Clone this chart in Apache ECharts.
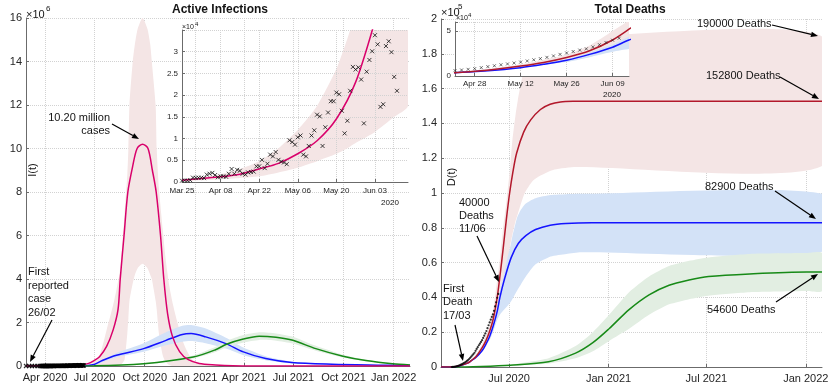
<!DOCTYPE html>
<html>
<head>
<meta charset="utf-8">
<script src="https://cdn.jsdelivr.net/npm/echarts@6/dist/echarts.min.js"></script>
<style>
html, body { margin: 0; padding: 0; background: #fff; }
#chart { width: 830px; height: 392px; }
</style>
</head>
<body>
<div id="chart"></div>
<script>
// all "days" count from 26 Feb 2020 (first reported case)
var DAY0 = Date.UTC(2020, 1, 26);
var END = 705;

// ---- Active infections (millions) ----
var magDays = [0, 90, 100, 115, 125, 135, 148, 160, 169, 173, 180, 187, 196, 204, 214, 224, 232, 239, 247, 253, 260, 269, 282, 297, 318, 348, 380, 420, 705];
var magVals = [0, 0.02, 0.045, 0.12, 0.25, 0.43, 0.9, 1.66, 2.6, 4.0, 6.0, 8.0, 9.2, 10.0, 10.2, 10.0, 9.0, 8.0, 6.0, 4.0, 2.4, 1.35, 0.66, 0.3, 0.12, 0.05, 0.01, 0, 0];
var magBandDays = [100, 120, 135, 148, 160, 166, 172, 176, 181, 186, 188, 190, 196, 200, 205, 214, 223, 228, 231, 238, 240, 244, 251, 256, 263, 270, 278, 290, 305, 330, 360];
var magBandHigh = [0.05, 0.2, 0.5, 1.66, 2.8, 3.5, 4.3, 5.4, 7.0, 8.8, 10.0, 12.0, 14.0, 14.8, 15.5, 16.0, 15.5, 14.8, 14.0, 12.0, 10.0, 8.2, 6.3, 5.0, 3.7, 2.8, 2.0, 1.0, 0.3, 0.05, 0.01];
var magBandLow = [0, 0, 0, 0, 0, 0, 0.02, 0.1, 0.3, 1.5, 2.2, 3.0, 3.8, 4.2, 4.5, 4.7, 4.5, 4.2, 4.0, 3.0, 2.6, 1.5, 0.5, 0.2, 0.05, 0, 0, 0, 0, 0, 0];

var blueDays = [0, 100, 125, 140, 166, 216, 257, 287, 303, 330, 367, 399, 440, 488, 562, 645, 705];
var blueVals = [0, 0.01, 0.07, 0.25, 0.49, 0.8, 1.18, 1.45, 1.49, 1.34, 1.03, 0.65, 0.34, 0.16, 0.08, 0.04, 0.02];
var blueBandDays = [100, 125, 166, 216, 257, 287, 303, 330, 367, 399, 440, 488, 562, 705];
var blueBandHigh = [0.01, 0.09, 0.6, 1.05, 1.55, 1.85, 1.88, 1.72, 1.3, 0.85, 0.45, 0.2, 0.09, 0.03];
var blueBandLow = [0.01, 0.05, 0.4, 0.65, 0.95, 1.12, 1.15, 1.05, 0.8, 0.5, 0.27, 0.12, 0.06, 0.02];

var greenDays = [0, 125, 216, 307, 348, 368, 399, 428, 459, 490, 532, 582, 624, 673, 705];
var greenVals = [0, 0.01, 0.1, 0.41, 0.75, 1.0, 1.24, 1.37, 1.32, 1.18, 0.8, 0.45, 0.25, 0.1, 0.05];
var greenBandDays = [125, 216, 307, 348, 368, 399, 428, 459, 490, 532, 582, 624, 673, 705];
var greenBandHigh = [0.01, 0.12, 0.48, 0.88, 1.15, 1.42, 1.55, 1.5, 1.35, 0.93, 0.52, 0.29, 0.12, 0.06];
var greenBandLow = [0.01, 0.08, 0.35, 0.64, 0.86, 1.08, 1.2, 1.16, 1.03, 0.7, 0.39, 0.22, 0.09, 0.04];

// reported active cases, before the inset window
var earlyCaseDays = [0, 6, 11, 16, 21, 25];
var earlyCases = [1, 2, 20, 70, 250, 280];
// reported active cases, one per day from 25 Mar 2020 (day 28)
var CASE_OFF = 28;
var activeCases = [300, 350, 300, 400, 1000, 950, 1000, 1000, 900,
  1700, 1900, 2100, 1600, 1100, 1300, 1300, 1200,
  1900, 3000, 1900, 2800, 2600, 1900, 1700, 2200, 2300, 2400,
  3600, 3600, 5100, 3200, 4200, 6300, 5900, 6900, 5100, 4700, 4500, 4100,
  9600, 9200, 8600, 10300, 10700, 6300, 5900, 8300, 10700, 11900, 15500, 15100, 8300, 12600,
  16000, 18600, 18600, 20600, 20200, 16400, 11200, 14100, 21000, 26500, 25900, 26400, 23600,
  13500, 25400, 28100, 30100, 33800, 31700, 17300, 17900, 31300, 32400, 29900, 24200, 21000];

// inset fit (days from 25 Mar 2020)
var fitDays = [0, 7, 14, 21, 28, 35, 42, 49, 56, 63, 70, 74];
var fitVals = [400, 800, 1200, 1800, 3000, 4300, 6500, 9500, 14500, 23000, 37000, 46000];
var fitBandDays = [0, 7, 14, 21, 28, 35, 42, 49, 56, 60, 63, 66, 70, 77, 82];
var fitBandHigh = [600, 1100, 1800, 3000, 4800, 7800, 12000, 17500, 26000, 33000, 39000, 46000, 56000, 75000, 90000];
var fitBandLow = [200, 400, 600, 900, 1300, 2200, 3300, 4800, 6500, 7800, 9000, 10000, 11500, 15000, 17500];

// ---- Total deaths ----
var redDays = [0, 20, 35, 49, 56, 65, 76, 83, 90, 97, 104, 109, 115, 121, 127, 133, 140, 153, 166, 184, 202, 221, 249, 279, 705];
var redVals = [0, 0, 800, 2200, 3700, 6000, 11000, 15000, 20500, 28000, 40000, 52000, 68000, 85000, 100000, 112000, 123000, 135000, 142000, 148000, 151000, 152300, 152700, 152800, 152800];
var redBandDays = [20, 56, 76, 90, 97, 104, 109, 115, 121, 128, 132, 138, 142, 155, 170, 184, 210, 250, 705];
var redBandHigh = [0, 4000, 13000, 24000, 34000, 50000, 62000, 80000, 95000, 115000, 130000, 145000, 153000, 173000, 183000, 188000, 190000, 190000, 190000];
var redBandLow = [0, 3300, 9500, 17000, 21000, 30000, 34000, 45000, 55000, 70000, 76000, 84000, 88000, 100000, 107000, 110000, 113500, 115000, 115500];

var blueDDays = [0, 20, 35, 49, 56, 65, 76, 83, 90, 97, 104, 109, 117, 130, 143, 157, 175, 202, 231, 279, 705];
var blueDVals = [0, 0, 700, 2200, 3600, 5600, 9300, 13000, 17500, 24000, 32000, 40000, 50000, 63000, 71000, 75500, 79000, 81500, 82500, 82900, 82900];
var blueDBandDays = [20, 56, 90, 104, 109, 117, 123, 128, 132, 141, 147, 157, 175, 203, 232, 259, 705];
var blueDBandHigh = [0, 3700, 18500, 35000, 44000, 54000, 63000, 69000, 75000, 86000, 90000, 94000, 97000, 98800, 99300, 99500, 99500];
var blueDBandLow = [0, 3400, 15500, 27000, 30000, 33000, 35000, 37000, 39000, 44000, 47000, 52000, 59000, 63500, 65000, 66000, 66300];

var greenDDays = [0, 20, 75, 128, 199, 249, 281, 311, 348, 385, 422, 459, 495, 571, 677, 705];
var greenDVals = [0, 0, 300, 1000, 3000, 8000, 14000, 22000, 33000, 41500, 47000, 50000, 52000, 53500, 54600, 54600];
var greenDBandDays = [128, 199, 249, 281, 311, 348, 385, 422, 459, 495, 571, 677, 705];
var greenDBandHigh = [1200, 5000, 12000, 20000, 30000, 43000, 52000, 58000, 61000, 63000, 65000, 65500, 65500];
var greenDBandLow = [800, 2000, 5000, 9000, 15000, 22000, 30000, 36000, 39000, 41000, 43000, 43700, 43700];

// reported deaths, every 2 days from 17 Mar 2020 (day 20)
var DEATH_OFF = 20;
var deaths = [0, 50, 100, 180, 300, 450, 650, 900, 1200, 1500, 1800, 2200, 2600, 3000, 3500, 4000,
  4600, 5300, 6000, 6700, 7400, 8200, 9300, 10400, 11400, 12500, 13400, 14400, 15400, 16700,
  18000, 19300, 20700, 22300, 24000, 25600, 27200, 28800, 30200, 32300, 34800, 37200, 39800, 42000];

// ---- ticks ----
var leftTicks = ['2020-04-01', '2020-07-01', '2020-10-01', '2021-01-01', '2021-04-01', '2021-07-01', '2021-10-01', '2022-01-01'];
var rightTicks = ['2020-07-01', '2021-01-01', '2021-07-01', '2022-01-01'];
var leftInsetTicks = ['2020-03-25', '2020-04-08', '2020-04-22', '2020-05-06', '2020-05-20', '2020-06-03'];
var rightInsetTicks = ['2020-04-28', '2020-05-12', '2020-05-26', '2020-06-09'];

var FONT = '"Liberation Sans", Arial, Helvetica, sans-serif';
var AX = '#6b6b6b';
var MON = ['Jan', 'Feb', 'Mar', 'Apr', 'May', 'Jun', 'Jul', 'Aug', 'Sep', 'Oct', 'Nov', 'Dec'];

function t(d) { return DAY0 + d * 86400000; }
function ts(s) { return Date.parse(s + 'T00:00:00Z'); }
function monYear(v) { var d = new Date(v); return MON[d.getUTCMonth()] + ' ' + d.getUTCFullYear(); }
function monDay(v) { var d = new Date(v); var dd = d.getUTCDate(); return MON[d.getUTCMonth()] + ' ' + (dd < 10 ? '0' : '') + dd; }

function pts(days, vals, off, scale) {
  off = off || 0; scale = scale || 1;
  return days.map(function (d, i) { return [t(d + off), vals[i] * scale]; });
}

function lineS(ax, days, vals, color, z, off) {
  return { type: 'line', xAxisIndex: ax, yAxisIndex: ax, data: pts(days, vals, off), smooth: 0.3,
    symbol: 'none', lineStyle: { color: color, width: 1.5 }, z: z, silent: true };
}

// uncertainty band: one polygon, upper edge forward then lower edge back, placed by the axes
function bandS(ax, days, low, high, color, z, off) {
  off = off || 0;
  return {
    type: 'custom', xAxisIndex: ax, yAxisIndex: ax, z: z, silent: true,
    data: [[t(days[0] + off), low[0]]],
    renderItem: function (params, api) {
      var up = days.map(function (d, i) { return api.coord([t(d + off), high[i]]); });
      var lo = days.map(function (d, i) { return api.coord([t(d + off), low[i]]); }).reverse();
      var cs = params.coordSys;
      return {
        type: 'polygon',
        shape: { points: up.concat(lo), smooth: 0.2 },
        style: { fill: color },
        clipPath: { type: 'rect', shape: { x: cs.x, y: cs.y, width: cs.width, height: cs.height } }
      };
    }
  };
}

var XMARK = 'path://M0,0L10,10M10,0L0,10';

// dates are plain numbers (ms) on a value axis so the ticks can be placed on given dates
function xAx(grid, min, max, ticks, fmt, fs, z, margin) {
  var tv = ticks.map(ts);
  return {
    type: 'value', gridIndex: grid, min: min, max: max, z: z, scale: true,
    axisLine: { show: true, onZero: false, lineStyle: { color: AX } },
    axisTick: { show: true, inside: true, length: 3, customValues: tv, lineStyle: { color: AX } },
    axisLabel: { customValues: tv, formatter: fmt, fontSize: fs, color: '#262626', fontFamily: FONT, margin: margin },
    splitLine: { show: true, lineStyle: { type: 'dotted', color: '#d2d2d2' } }
  };
}

function yAx(grid, max, interval, fmt, fs, z) {
  return {
    type: 'value', gridIndex: grid, min: 0, max: max, interval: interval, z: z,
    axisLine: { show: true, onZero: false, lineStyle: { color: AX } },
    axisTick: { show: true, inside: true, length: 3, lineStyle: { color: AX } },
    axisLabel: { formatter: fmt, fontSize: fs, color: '#262626', fontFamily: FONT, margin: 4 },
    splitLine: { show: true, lineStyle: { type: 'dotted', color: '#d2d2d2' } }
  };
}

function txt(s, x, y, size, align, extra) {
  extra = extra || {};
  return {
    type: 'text', x: x, y: y, z: 100, rotation: extra.rot || 0,
    style: { text: s, font: (extra.bold ? 'bold ' : '') + size + 'px ' + FONT, fill: '#141414',
      align: align, verticalAlign: 'middle' }
  };
}

function lines(arr, x, y0, dy, align) {
  return arr.map(function (s, i) { return txt(s, x, y0 + i * dy, 11, align); });
}

function arrow(x1, y1, x2, y2) {
  var dx = x2 - x1, dy = y2 - y1, len = Math.sqrt(dx * dx + dy * dy);
  var ux = dx / len, uy = dy / len, L = 7, w = 2.8;
  var bx = x2 - L * ux, by = y2 - L * uy;
  return [
    { type: 'line', z: 100, shape: { x1: x1, y1: y1, x2: bx, y2: by }, style: { stroke: '#000', lineWidth: 1.2 } },
    { type: 'polygon', z: 100, shape: { points: [[x2, y2], [bx - w * uy, by + w * ux], [bx + w * uy, by - w * ux]] }, style: { fill: '#000' } }
  ];
}

var PINK = '#f4e5e5', LBLUE = '#d3e2f7', LGREEN = '#e2eee2';
var series = [];
// left main
series.push(bandS(0, magBandDays, magBandLow, magBandHigh, PINK, 2));
series.push(bandS(0, blueBandDays, blueBandLow, blueBandHigh, LBLUE, 2));
series.push(bandS(0, greenBandDays, greenBandLow, greenBandHigh, LGREEN, 2));
series.push(lineS(0, blueDays, blueVals, '#1414ff', 3));
series.push(lineS(0, greenDays, greenVals, '#178a17', 3));
series.push(lineS(0, magDays, magVals, '#d9006b', 3));
series.push({ type: 'scatter', xAxisIndex: 0, yAxisIndex: 0, silent: true, z: 4,
  data: pts(earlyCaseDays, earlyCases, 0, 1e-6).concat(activeCases.map(function (v, i) { return [t(CASE_OFF + i), v / 1e6]; })),
  symbol: XMARK, symbolSize: 4, itemStyle: { color: 'none', borderColor: '#000', borderWidth: 1.2 } });

// left inset
series.push(bandS(1, fitBandDays, fitBandLow, fitBandHigh, PINK, 5, CASE_OFF));
series.push(lineS(1, fitDays, fitVals, '#d9006b', 6, CASE_OFF));
series.push({ type: 'scatter', xAxisIndex: 1, yAxisIndex: 1, silent: true, z: 7,
  data: activeCases.map(function (v, i) { return [t(CASE_OFF + i), v]; }),
  symbol: XMARK, symbolSize: 4, itemStyle: { color: 'none', borderColor: '#111', borderWidth: 1 } });

// right main
series.push(bandS(2, redBandDays, redBandLow, redBandHigh, PINK, 2));
series.push(bandS(2, blueDBandDays, blueDBandLow, blueDBandHigh, LBLUE, 2));
series.push(bandS(2, greenDBandDays, greenDBandLow, greenDBandHigh, LGREEN, 2));
series.push(lineS(2, greenDDays, greenDVals, '#178a17', 3));
series.push(lineS(2, blueDDays, blueDVals, '#1414ff', 3));
series.push(lineS(2, redDays, redVals, '#b2182b', 3));
var deathPts = deaths.map(function (v, i) { return [t(DEATH_OFF + 2 * i), v]; });
series.push({ type: 'scatter', xAxisIndex: 2, yAxisIndex: 2, silent: true, z: 4, data: deathPts,
  symbol: 'circle', symbolSize: 2.2, itemStyle: { color: '#000' } });

// right inset
series.push(bandS(3, redBandDays, redBandLow, redBandHigh, PINK, 12));
series.push(bandS(3, blueDBandDays, blueDBandLow, blueDBandHigh, LBLUE, 12));
series.push(lineS(3, blueDDays, blueDVals, '#1414ff', 13));
series.push(lineS(3, redDays, redVals, '#b2182b', 13));
series.push({ type: 'scatter', xAxisIndex: 3, yAxisIndex: 3, silent: true, z: 14, data: deathPts,
  symbol: XMARK, symbolSize: 3, itemStyle: { color: 'none', borderColor: '#222', borderWidth: 0.8 } });

var graphics = [
  txt('Active Infections', 220, 10, 12, 'center', { bold: true }),
  txt('Total Deaths', 630, 10, 12, 'center', { bold: true }),
  txt('\u00d710', 26, 15, 11, 'left'), txt('6', 46, 9, 8, 'left'),
  txt('\u00d710', 441, 13, 11, 'left'), txt('5', 458, 7, 8, 'left'),
  txt('\u00d710', 182, 27, 7, 'left'), txt('4', 195, 24, 6, 'left'),
  txt('\u00d710', 456, 18, 7, 'left'), txt('4', 468, 15, 6, 'left'),
  txt('2020', 390, 203, 8, 'center'),
  txt('2020', 612, 95, 8, 'center'),
  txt('I(t)', 33, 170, 11, 'center', { rot: Math.PI / 2 }),
  txt('D(t)', 452, 177, 11, 'center', { rot: Math.PI / 2 }),
  txt('190000 Deaths', 697, 24, 11, 'left'),
  txt('152800 Deaths', 706, 76, 11, 'left'),
  txt('82900 Deaths', 705, 187, 11, 'left'),
  txt('54600 Deaths', 707, 310, 11, 'left')
];
graphics = graphics
  .concat(lines(['10.20 million', 'cases'], 110, 118, 13.4, 'right'))
  .concat(lines(['First', 'reported', 'case', '26/02'], 28, 272, 13.6, 'left'))
  .concat(lines(['40000', 'Deaths', '11/06'], 459, 203, 13.2, 'left'))
  .concat(lines(['First', 'Death', '17/03'], 443, 289, 13.4, 'left'))
  .concat(arrow(112, 124, 139, 139))
  .concat(arrow(52, 320, 30, 362))
  .concat(arrow(772, 25, 818, 36))
  .concat(arrow(780, 77, 819, 99))
  .concat(arrow(775, 191, 816, 219))
  .concat(arrow(776, 302, 818, 274))
  .concat(arrow(477, 236, 499, 282))
  .concat(arrow(455, 325, 463, 361));

var chart = echarts.init(document.getElementById('chart'));
chart.setOption({
  animation: false,
  backgroundColor: '#fff',
  textStyle: { fontFamily: FONT },
  grid: [
    { left: 26, top: 18, width: 384, height: 348, outerBoundsMode: 'none' },
    { left: 182, top: 30, width: 226, height: 152, outerBoundsMode: 'none', z: 5 },
    { left: 441, top: 19, width: 381, height: 348, outerBoundsMode: 'none' },
    { left: 455, top: 22, width: 174, height: 54, outerBoundsMode: 'none', show: true, backgroundColor: '#fff', borderWidth: 0, z: 10 }
  ],
  xAxis: [
    xAx(0, t(0), t(END), leftTicks, monYear, 11, 0, 6),
    xAx(1, ts('2020-03-25'), ts('2020-06-15'), leftInsetTicks, monDay, 8, 6, 5),
    xAx(2, t(0), t(END), rightTicks, monYear, 11, 0, 6),
    xAx(3, ts('2020-04-22'), ts('2020-06-14'), rightInsetTicks, monDay, 8, 11, 4)
  ],
  yAxis: [
    yAx(0, 16, 2, function (v) { return v; }, 11, 0),
    yAx(1, 35000, 5000, function (v) { return v >= 35000 ? '' : String(v / 1e4); }, 8, 6),
    yAx(2, 200000, 20000, function (v) { return String(parseFloat((v / 1e5).toFixed(1))); }, 11, 0),
    yAx(3, 60000, 50000, function (v) { return v > 50000 ? '' : String(v / 1e4); }, 8, 11)
  ],
  series: series,
  graphic: { elements: graphics }
});
</script>
</body>
</html>
